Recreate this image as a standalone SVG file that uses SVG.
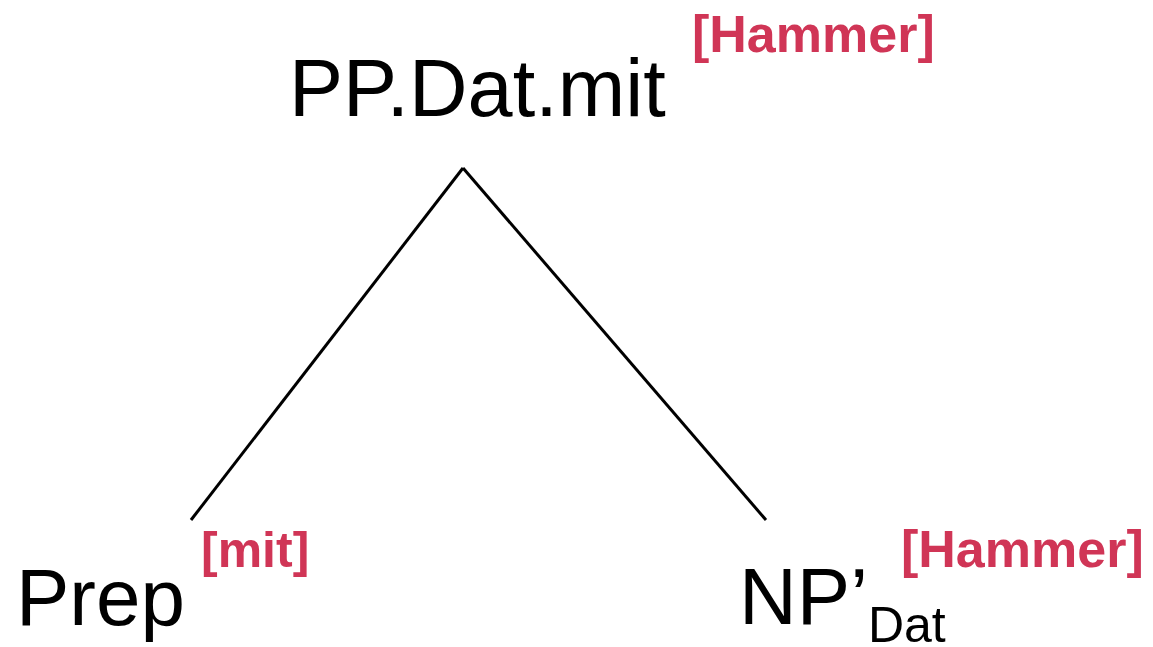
<svg xmlns="http://www.w3.org/2000/svg" width="1153" height="647" viewBox="0 0 1153 647">
  <style>
    .label { font-family: "Liberation Sans", Arial, sans-serif; font-size: 80px; fill: #000; }
    .feat { font-family: "Liberation Sans", Arial, sans-serif; font-weight: bold; font-size: 52px; fill: #d03556; }
    .edge { stroke: #000; stroke-width: 3; fill: none; }
  </style>
  <rect width="1153" height="647" fill="#fff"/>
  <g id="connectors">
    <line class="edge" x1="463" y1="168" x2="191" y2="520"/>
    <line class="edge" x1="463" y1="168" x2="766" y2="520"/>
  </g>
  <g id="node-pp">
    <text class="label" x="289" y="116" style="font-size:81px">PP.Dat.mit</text>
    <text class="feat" x="692" y="52">[Hammer]</text>
  </g>
  <g id="node-prep">
    <text class="label" x="16" y="625">Prep</text>
    <text class="feat" x="201" y="567" style="font-size:50px">[mit]</text>
  </g>
  <g id="node-np">
    <text class="label" x="739" y="624">NP’<tspan style="font-size:50px" dy="18">Dat</tspan></text>
    <text class="feat" x="901" y="567">[Hammer]</text>
  </g>
</svg>
